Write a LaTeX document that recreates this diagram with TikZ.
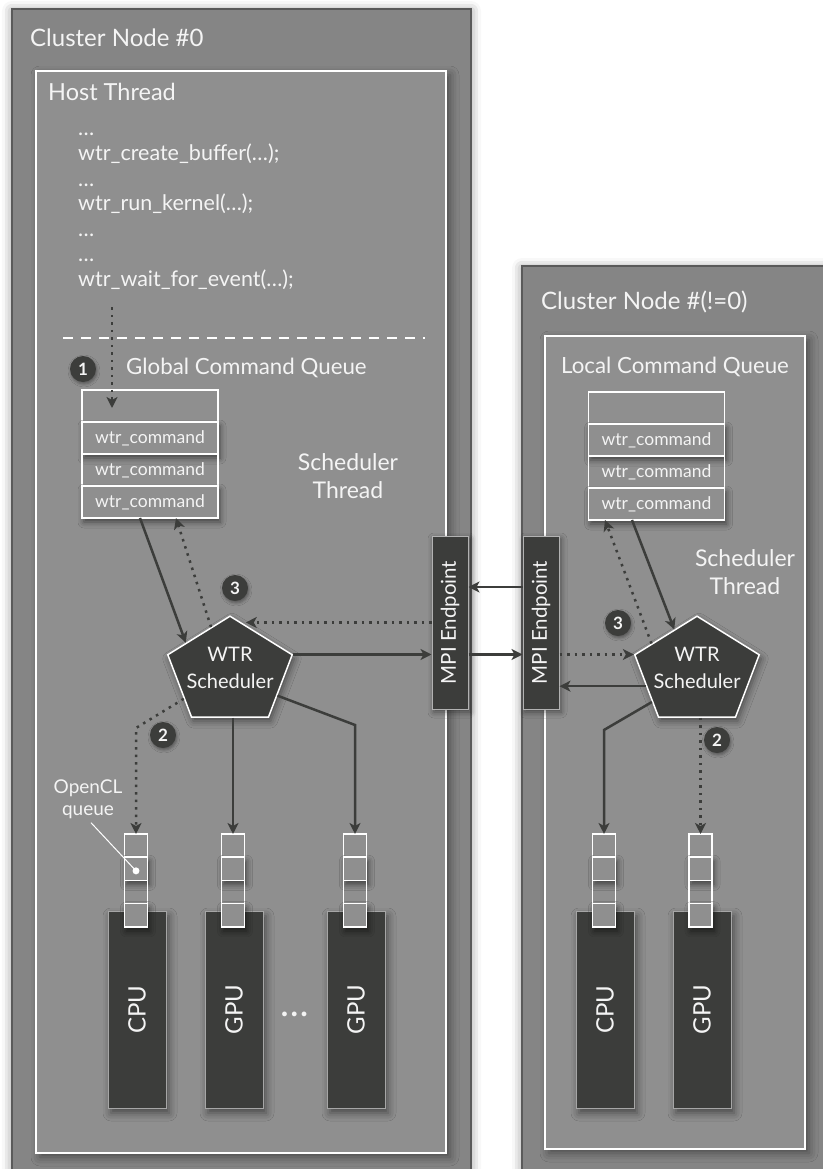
\documentclass[tikz,border=0pt]{standalone}
\usepackage{fontspec}
\setmainfont{Lato}
\usetikzlibrary{arrows.meta, positioning, calc, shapes.geometric, shadows.blur}

\definecolor{outergray}{HTML}{858585}
\definecolor{innergray}{HTML}{8F8F8F}
\definecolor{boxline}{HTML}{5A5A5A}
\definecolor{darkfill}{HTML}{3C3D3B}
\definecolor{paletext}{HTML}{F4F4F4}

\begin{document}
\begin{tikzpicture}[x=1pt, y=-1pt,
    cluster/.style={draw=boxline, fill=outergray, line width=1.5pt,
      blur shadow={shadow xshift=0pt, shadow yshift=-2pt, shadow blur radius=10pt, shadow opacity=45}},
    thread/.style={draw=white, fill=innergray, line width=1.5pt,
      blur shadow={shadow xshift=4pt, shadow yshift=-4pt, shadow blur radius=9pt, shadow opacity=45}},
    raised/.style={fill=innergray,
      blur shadow={shadow xshift=2pt, shadow yshift=-4pt, shadow blur radius=6pt, shadow opacity=55}},
    title/.style={text=paletext, font=\fontsize{24}{28}\selectfont, inner sep=0pt},
    subtitle/.style={text=paletext, font=\fontsize{23}{28}\selectfont, inner sep=0pt, align=center},
    codeline/.style={text=paletext, font=\fontsize{21.5}{25}\selectfont, inner sep=0pt, anchor=base west},
    cmdcell/.style={draw=white, line width=1.5pt, minimum width=136pt, minimum height=32pt,
      inner sep=0pt, outer sep=0pt, text=paletext, font=\fontsize{17.5}{20}\selectfont},
    qsq/.style={draw=white, line width=1.5pt, minimum size=23.25pt, inner sep=0pt, outer sep=0pt},
    device/.style={draw=gray!70, fill=darkfill, line width=1pt, minimum width=58pt, minimum height=197pt,
      inner sep=0pt, text=paletext, font=\fontsize{24}{28}\selectfont,
      blur shadow={shadow xshift=3pt, shadow yshift=-5pt, shadow blur radius=8pt, shadow opacity=50}},
    mpi/.style={draw=gray!60, fill=darkfill, line width=1pt, minimum width=36pt, minimum height=173pt,
      inner sep=0pt, text=paletext, font=\fontsize{20.5}{24}\selectfont,
      blur shadow={shadow xshift=2pt, shadow yshift=-3pt, shadow blur radius=6pt, shadow opacity=50}},
    sched/.style={regular polygon, regular polygon sides=5, minimum size=120pt, inner sep=0pt,
      draw=white, line width=1.5pt, fill=darkfill, transform shape, xscale=1.09, yscale=0.93,
      blur shadow={shadow xshift=2pt, shadow yshift=-4pt, shadow blur radius=7pt, shadow opacity=50}},
    schedtext/.style={text=paletext, font=\fontsize{20}{27}\selectfont, align=center, inner sep=0pt},
    num/.style={circle, fill=darkfill, text=paletext, font=\bfseries\fontsize{17}{17}\selectfont,
      minimum size=26pt, inner sep=0pt,
      blur shadow={shadow xshift=1pt, shadow yshift=-2pt, shadow blur radius=3pt, shadow opacity=40}},
    flow/.style={draw=darkfill, line width=2.5pt, -{Stealth[length=11pt, width=11pt, inset=3pt]}},
    dotflow/.style={flow, dash pattern=on 2.5pt off 5pt}
  ]
  \useasboundingbox (0,0) rectangle (822,1169);

  % cluster nodes and threads
  \path[cluster] (12,9) rectangle (471,1200);
  \path[cluster] (522,266) rectangle (840,1200);
  \path[thread] (36,71) rectangle (446,1153);
  \path[thread] (545,336) rectangle (805,1149);

  \node[title, anchor=west] (lclustertitle) at (30,38) {Cluster Node \#0};
  \node[title, anchor=west] (rclustertitle) at (541,302) {Cluster Node \#(!=0)};
  \node[subtitle, anchor=west, font=\fontsize{23.5}{28}\selectfont] (hosttitle) at (48,92) {Host Thread};

  % host program
  \foreach \t [count=\i] in {…, wtr\_create\_buffer(…);, …, wtr\_run\_kernel(…);, …, …, wtr\_wait\_for\_event(…);}
    \node[codeline] (hostline\i) at (78,111+25*\i) {\t};
  \draw[white, line width=1.5pt, dash pattern=on 10pt off 8pt] (63,338) -- (425,338);

  % global command queue
  \node[num] (lstep1) at (83,369) {1};
  \node[subtitle, anchor=west, font=\fontsize{22.3}{26}\selectfont] (gqtitle) at (126,368) {Global Command Queue};
  \node[cmdcell] (gq0) at (150,406) {};
  \node[cmdcell, raised, below=0pt of gq0] (gq1) {wtr\_command};
  \node[cmdcell, below=0pt of gq1] (gq2) {wtr\_command};
  \node[cmdcell, raised, below=0pt of gq2] (gq3) {wtr\_command};
  \node[subtitle] (lschedthread) at (348,476) {Scheduler\\Thread};

  % local command queue
  \node[subtitle, font=\fontsize{22.3}{26}\selectfont] (lqtitle) at (675,367) {Local Command Queue};
  \node[cmdcell] (lq0) at (656.5,408) {};
  \node[cmdcell, raised, below=0pt of lq0] (lq1) {wtr\_command};
  \node[cmdcell, below=0pt of lq1] (lq2) {wtr\_command};
  \node[cmdcell, raised, below=0pt of lq2] (lq3) {wtr\_command};
  \node[subtitle] (rschedthread) at (745,572) {Scheduler\\Thread};

  % schedulers
  \begin{scope}[shift={(230,672)}]
    \node[sched] (lsched) at (0,0) {};
  \end{scope}
  \begin{scope}[shift={(697,672)}]
    \node[sched] (rsched) at (0,0) {};
  \end{scope}
  \node[schedtext] (lschedtext) at ([yshift=4pt]lsched.center) {WTR\\Scheduler};
  \node[schedtext] (rschedtext) at ([yshift=4pt]rsched.center) {WTR\\Scheduler};

  % mpi endpoints
  \node[mpi] (lmpi) at (450,622.5) {\rotatebox{90}{MPI Endpoint}};
  \node[mpi] (rmpi) at (541,622.5) {\rotatebox{90}{MPI Endpoint}};

  % devices
  \node[device] (lcpu) at (137,1009.5) {\rotatebox{90}{CPU}};
  \node[device] (lgpu1) at (234,1009.5) {\rotatebox{90}{GPU}};
  \node[device] (lgpu2) at (356,1009.5) {\rotatebox{90}{GPU}};
  \node[device] (rcpu) at (605,1009.5) {\rotatebox{90}{CPU}};
  \node[device] (rgpu) at (702,1009.5) {\rotatebox{90}{GPU}};
  \node[text=paletext, font=\fontsize{38}{38}\selectfont, inner sep=0pt] (moregpu) at (295,1014) {…};

  % opencl queues
  \foreach \dev/\x in {lcpu/136, lgpu1/233, lgpu2/355, rcpu/604, rgpu/700.5} {
    \node[qsq] (\dev q1) at (\x,845.6) {};
    \node[qsq, raised, below=0pt of \dev q1] (\dev q2) {};
    \node[qsq, below=0pt of \dev q2] (\dev q3) {};
    \node[qsq, raised, below=0pt of \dev q3] (\dev q4) {};
  }
  \node[subtitle, font=\fontsize{19}{22}\selectfont] (opencl) at (88,799) {OpenCL\\queue};
  \coordinate (ocldot) at ([yshift=-2pt]lcpuq2.center);
  \draw[white, line width=1pt] ([xshift=3pt,yshift=-4pt]opencl.south) -- (ocldot);
  \fill[white] (ocldot) circle (3.5pt);

  % left node flows
  \draw[dotflow] (hostline7.south -| 112,0) ++(0,18) -- ([xshift=-38pt,yshift=-2pt]gq0.center);
  \draw[flow] ([xshift=-10pt]gq3.south) -- ($(lsched.corner 1)!0.7!(lsched.corner 2)$);
  \draw[dotflow] ($(lsched.corner 1)!0.3!(lsched.corner 2)$) -- ([xshift=26pt]gq3.south);
  \node[num] (lstep3) at (235,588) {3};
  \coordinate (lschedtip) at ($(lsched.corner 1)!0.25!(lsched.corner 5)$);
  \draw[dotflow] (lmpi.west) -- (lmpi.west -| lschedtip);
  \draw[flow] (lsched.corner 5) -- (lsched.corner 5 -| lmpi.west);

  \draw[dotflow] ($(lsched.corner 2)!0.7!(lsched.corner 3)$) -- ([yshift=106pt]lcpuq1.north) -- (lcpuq1.north);
  \node[num] (lstep2) at (163,735) {2};
  \draw[flow] (lsched.south -| lgpu1q1.north) -- (lgpu1q1.north);
  \draw[flow] ($(lsched.corner 4)!0.35!(lsched.corner 5)$) -- ([yshift=109pt]lgpu2q1.north) -- (lgpu2q1.north);

  % between the endpoints
  \draw[flow] ([yshift=35.5pt]rmpi.west) -- ([yshift=35.5pt]lmpi.east);
  \draw[flow] (lmpi.east |- lsched.corner 5) -- (rmpi.west |- lsched.corner 5);

  % right node flows
  \draw[dotflow] (rmpi.east |- rsched.corner 2) -- (rsched.corner 2);
  \coordinate (rschedout) at ($(rsched.corner 2)!0.5!(rsched.corner 3)$);
  \draw[flow] (rschedout) -- (rschedout -| rmpi.east);
  \draw[flow] ([xshift=-24.5pt]lq3.south) -- ($(rsched.corner 1)!0.36!(rsched.corner 2)$);
  \draw[dotflow] ($(rsched.corner 1)!0.72!(rsched.corner 2)$) -- ([xshift=-51.5pt]lq3.south);
  \node[num] (rstep3) at (618,623) {3};
  \draw[flow] ($(rsched.corner 2)!0.75!(rsched.corner 3)$) -- ([yshift=104pt]rcpuq1.north) -- (rcpuq1.north);
  \draw[dotflow] (rsched.south -| rgpuq1.north) -- (rgpuq1.north);
  \node[num] (rstep2) at (717,740) {2};
\end{tikzpicture}
\end{document}
